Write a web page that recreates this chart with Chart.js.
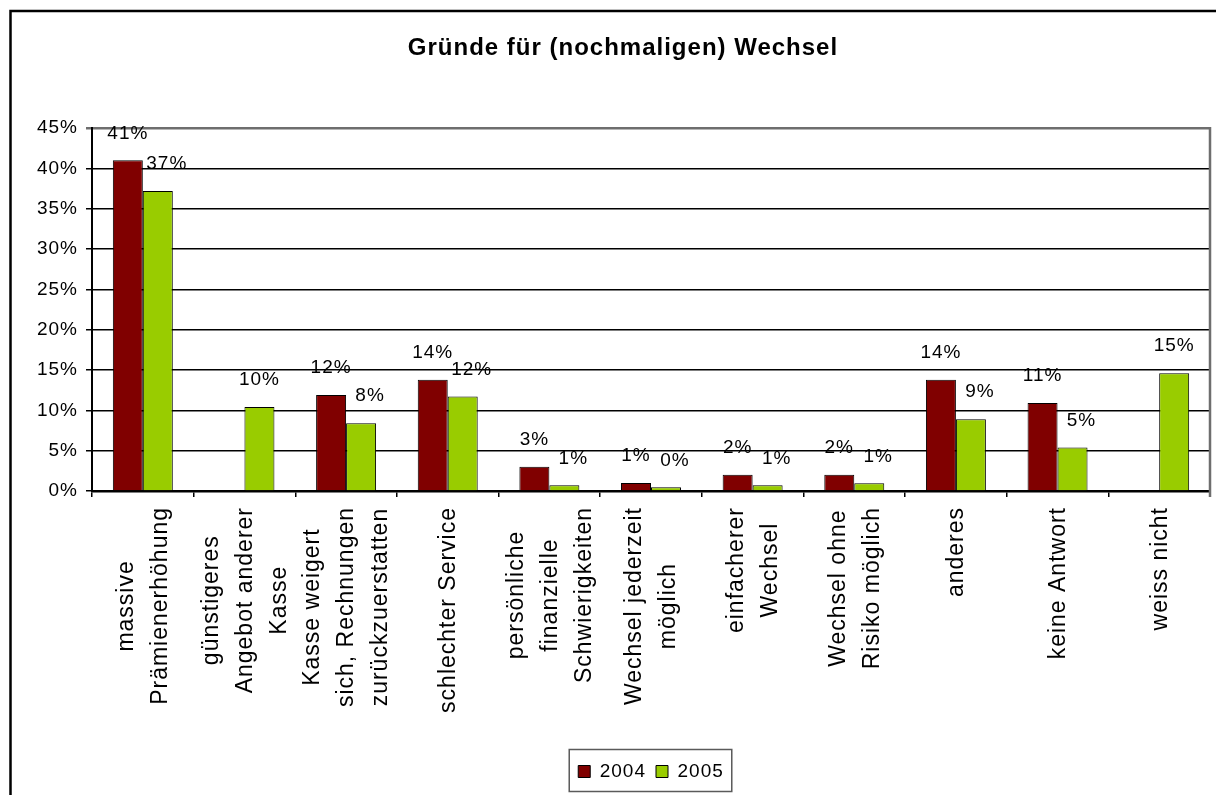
<!DOCTYPE html>
<html>
<head>
<meta charset="utf-8">
<script src="https://cdn.jsdelivr.net/npm/chart.js@4/dist/chart.umd.min.js"></script>
<style>
  html, body { margin: 0; padding: 0; background: #fff; }
  #wrap { width: 1216px; height: 795px; position: relative; }
</style>
</head>
<body>
<div id="wrap"><canvas id="c" width="1216" height="795"></canvas></div>
<script>
const chartTitle = 'Gründe für (nochmaligen) Wechsel';
const categories = [
  ['massive', 'Prämienerhöhung'],
  ['günstigeres', 'Angebot anderer', 'Kasse'],
  ['Kasse weigert', 'sich, Rechnungen', 'zurückzuerstatten'],
  ['schlechter Service'],
  ['persönliche', 'finanzielle', 'Schwierigkeiten'],
  ['Wechsel jederzeit', 'möglich'],
  ['einfacherer', 'Wechsel'],
  ['Wechsel ohne', 'Risiko möglich'],
  ['anderes'],
  ['keine Antwort'],
  ['weiss nicht']
];
const seriesNames = ['2004', '2005'];
const values2004 = [41.0, null, 11.9, 13.8, 3.0, 1.0, 2.0, 2.0, 13.8, 10.9, null];
const values2005 = [37.2, 10.4, 8.4, 11.7, 0.7, 0.45, 0.7, 0.95, 8.9, 5.4, 14.6];
const yTicks = [0, 5, 10, 15, 20, 25, 30, 35, 40, 45];

const FONT = '"Liberation Sans", Arial, sans-serif';

const spacingPlugin = {
  id: 'spacing',
  beforeUpdate(chart) { chart.ctx.letterSpacing = '1px'; },
  beforeLayout(chart) { chart.ctx.letterSpacing = '1px'; },
  beforeDraw(chart) {
    const ctx = chart.ctx;
    ctx.save();
    ctx.letterSpacing = '0px';
    ctx.fillStyle = '#ffffff';
    ctx.fillRect(0, 0, chart.width, chart.height);
    ctx.restore();
    ctx.letterSpacing = '1px';
  }
};

const decorPlugin = {
  id: 'decor',
  afterDatasetsDraw(chart) {
    const ctx = chart.ctx;
    const area = chart.chartArea;
    // plot area right border
    ctx.save();
    ctx.strokeStyle = '#6e6e6e';
    ctx.lineWidth = 2.5;
    ctx.beginPath();
    ctx.moveTo(area.right, area.top - 1);
    ctx.lineTo(area.right, area.bottom + 6);
    ctx.stroke();
    ctx.restore();

    // data labels
    ctx.save();
    ctx.font = '19px ' + FONT;
    ctx.letterSpacing = '1px';
    ctx.fillStyle = '#000';
    ctx.textAlign = 'center';
    ctx.textBaseline = 'middle';
    chart.data.datasets.forEach((ds, di) => {
      const meta = chart.getDatasetMeta(di);
      meta.data.forEach((bar, i) => {
        const v = ds.data[i];
        if (v === null || v === undefined) return;
        let dx = 0;
        if (di === 1 && chart.data.datasets[0].data[i] !== null) dx = 9;
        ctx.fillText(Math.round(v) + '%', bar.x + dx, bar.y - 27);
      });
    });
    ctx.restore();
  },
  afterDraw(chart) {
    const ctx = chart.ctx;
    const area = chart.chartArea;
    const xScale = chart.scales.x;
    // category labels (rotated, lines centered)
    ctx.save();
    ctx.font = '23px ' + FONT;
    ctx.letterSpacing = '1px';
    ctx.fillStyle = '#000';
    ctx.textAlign = 'center';
    ctx.textBaseline = 'middle';
    const lineH = 34;
    const topY = area.bottom + 16;
    chart.data.labels.forEach((lines, i) => {
      const x = xScale.getPixelForValue(i) + 1;
      const w = Math.max(...lines.map(l => ctx.measureText(l).width));
      ctx.save();
      ctx.translate(x, topY);
      ctx.rotate(-Math.PI / 2);
      const n = lines.length;
      lines.forEach((l, j) => {
        ctx.fillText(l, -w / 2, (j - (n - 1) / 2) * lineH);
      });
      ctx.restore();
    });
    ctx.restore();

    // title
    ctx.save();
    ctx.font = 'bold 24px ' + FONT;
    ctx.letterSpacing = '1px';
    ctx.fillStyle = '#000';
    ctx.textAlign = 'center';
    ctx.textBaseline = 'middle';
    ctx.fillText(chartTitle, 623, 48);
    ctx.restore();

    // legend frame
    const lg = chart.legend;
    if (lg && lg.legendHitBoxes && lg.legendHitBoxes.length) {
      const hb = lg.legendHitBoxes;
      const l = hb[0].left - 9;
      const r = hb[hb.length - 1].left + hb[hb.length - 1].width + 8;
      ctx.save();
      ctx.strokeStyle = '#5a5a5a';
      ctx.lineWidth = 1.5;
      ctx.strokeRect(l, 749.5, r - l, 42);
      ctx.restore();
    }

    // outer frame
    ctx.save();
    ctx.strokeStyle = '#000';
    ctx.lineWidth = 2.5;
    ctx.strokeRect(10.5, 11, 1400, 1000);
    ctx.restore();
  }
};

new Chart(document.getElementById('c'), {
  type: 'bar',
  data: {
    labels: categories,
    datasets: [
      { label: seriesNames[0], data: values2004, backgroundColor: '#800000', borderColor: '#000000', borderWidth: 1 },
      { label: seriesNames[1], data: values2005, backgroundColor: '#99cc00', borderColor: '#000000', borderWidth: 1 }
    ]
  },
  options: {
    responsive: false,
    animation: false,
    devicePixelRatio: 1,
    datasets: { bar: { categoryPercentage: 0.59, barPercentage: 1.0 } },
    layout: { padding: { top: 128, left: 0, right: 6, bottom: 4 } },
    plugins: {
      title: { display: false },
      tooltip: { enabled: false },
      legend: {
        display: true,
        position: 'bottom',
        fullSize: false,
        labels: {
          font: { family: FONT, size: 19 },
          color: '#000',
          boxWidth: 12,
          boxHeight: 12,
          padding: 10
        }
      }
    },
    scales: {
      x: {
        type: 'category',
        grid: { display: true, drawOnChartArea: false, drawTicks: true, tickLength: 6, color: '#000', lineWidth: 1.5, offset: true },
        border: { display: true, color: '#000', width: 2.5 },
        ticks: { display: false },
        afterFit(scale) { scale.height = 261; }
      },
      y: {
        min: 0,
        max: 45,
        afterBuildTicks(scale) { scale.ticks = yTicks.map(v => ({ value: v })); },
        ticks: {
          font: { family: FONT, size: 19 },
          color: '#000',
          padding: 8,
          callback: v => v + '%'
        },
        grid: {
          color: c => (c.tick && c.tick.value === 45) ? '#6e6e6e' : '#000',
          lineWidth: c => (c.tick && c.tick.value === 45) ? 2.5 : 1.5,
          tickLength: 6,
          drawTicks: true
        },
        border: { display: true, color: '#000', width: 2 },
        afterFit(scale) { scale.width = 92; }
      }
    }
  },
  plugins: [spacingPlugin, decorPlugin]
});
</script>
</body>
</html>
